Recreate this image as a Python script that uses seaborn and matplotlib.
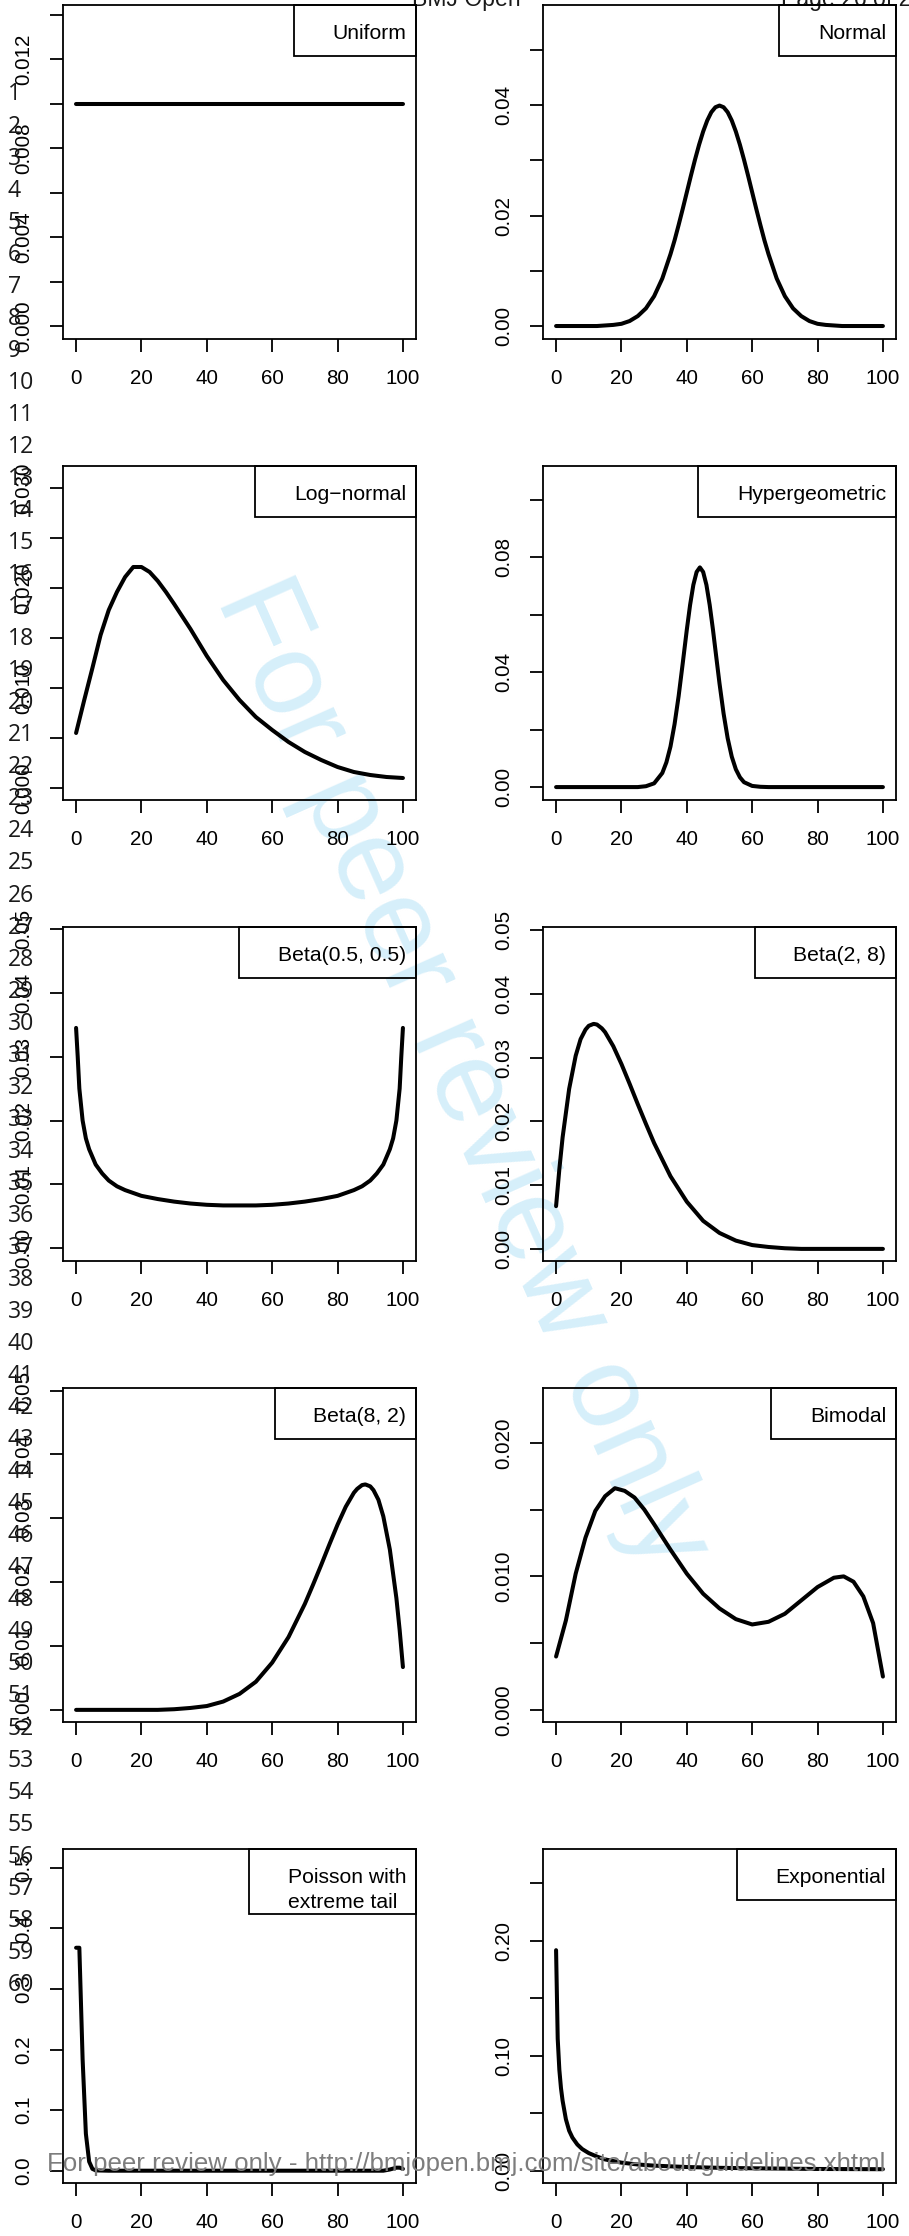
import matplotlib
matplotlib.use("Agg")
import matplotlib.pyplot as plt
import seaborn as sns
from matplotlib.patches import Rectangle

# ------------------------------------------------------------------ data
x_ticks = [0, 20, 40, 60, 80, 100]

uniform_x = [0, 100]
uniform_y = [0.01, 0.01]

normal_x = [0, 10, 12.5, 15, 17.5, 20, 22.5, 25, 27.5, 30, 32.5, 35, 36.25, 37.5, 38.75, 40, 41.25,
            42.5, 43.75, 45, 46.25, 47.5, 48.75, 50, 51.25, 52.5, 53.75, 55, 56.25, 57.5, 58.75, 60,
            61.25, 62.5, 63.75, 65, 67.5, 70, 72.5, 75, 77.5, 80, 82.5, 85, 87.5, 90, 100]
normal_y = [0.0000, 0.0000, 0.0000, 0.0001, 0.0002, 0.0004, 0.0009, 0.0018, 0.0032, 0.0054, 0.0086,
            0.0130, 0.0155, 0.0183, 0.0212, 0.0242, 0.0272, 0.0301, 0.0328, 0.0352, 0.0372, 0.0387,
            0.0396, 0.0399, 0.0396, 0.0387, 0.0372, 0.0352, 0.0328, 0.0301, 0.0272, 0.0242, 0.0212,
            0.0183, 0.0155, 0.0130, 0.0086, 0.0054, 0.0032, 0.0018, 0.0009, 0.0004, 0.0002, 0.0001,
            0.0000, 0.0000, 0.0000]

lognorm_x = [0, 2.5, 5, 7.5, 10, 12.5, 15, 17.5, 20, 22.5, 25, 27.5, 30, 35, 40, 45, 50, 55, 60, 65,
             70, 75, 80, 85, 90, 95, 100]
lognorm_y = [0.0055, 0.0088, 0.0120, 0.0153, 0.0178, 0.0196, 0.0211, 0.0221, 0.0221, 0.0216, 0.0207,
             0.0196, 0.0184, 0.0159, 0.0132, 0.0108, 0.0088, 0.0071, 0.0058, 0.0046, 0.0036, 0.0028,
             0.0021, 0.0016, 0.0013, 0.0011, 0.0010]

hyper_x = [0, 10, 20, 25, 27.5, 30, 32.5, 33.75, 35, 36.25, 37.5, 38.75, 40, 41, 42, 43, 44, 45, 46,
           47, 48, 49, 50, 51.25, 52.5, 53.75, 55, 56.25, 57.5, 60, 62.5, 65, 70, 80, 90, 100]
hyper_y = [0.0, 0.0, 0.0, 0.0000, 0.0003, 0.0013, 0.0049, 0.0086, 0.0141, 0.0219, 0.0317, 0.0431,
           0.0548, 0.0634, 0.0704, 0.0749, 0.0765, 0.0749, 0.0704, 0.0634, 0.0548, 0.0454, 0.0361,
           0.0256, 0.0170, 0.0106, 0.0062, 0.0034, 0.0017, 0.0004, 0.0001, 0.0, 0.0, 0.0, 0.0, 0.0]

beta55_x = [0, 0.5, 1, 2, 3, 4, 6, 8, 10, 12.5, 15, 20, 25, 30, 35, 40, 45, 50, 55, 60, 65, 70, 75,
            80, 85, 87.5, 90, 92, 94, 96, 97, 98, 99, 99.5, 100]
beta55_y = [0.0345, 0.0300, 0.0250, 0.0200, 0.0172, 0.0155, 0.0131, 0.0117, 0.0106, 0.0097, 0.0091,
            0.0082, 0.0077, 0.0073, 0.0070, 0.0068, 0.0067, 0.0067, 0.0067, 0.0068, 0.0070, 0.0073,
            0.0077, 0.0082, 0.0091, 0.0097, 0.0106, 0.0117, 0.0131, 0.0155, 0.0172, 0.0200, 0.0250,
            0.0300, 0.0345]

beta28_x = [0, 1, 2, 4, 6, 7.5, 9, 10, 11.5, 12.5, 14, 15, 17.5, 20, 22.5, 25, 27.5, 30, 35, 40, 45,
            50, 55, 60, 65, 70, 75, 80, 90, 100]
beta28_y = [0.0067, 0.0125, 0.0175, 0.0251, 0.0303, 0.0329, 0.0344, 0.0350, 0.0353, 0.0352, 0.0346,
            0.0340, 0.0318, 0.0290, 0.0259, 0.0227, 0.0196, 0.0166, 0.0114, 0.0074, 0.0044, 0.0025,
            0.0013, 0.0006, 0.0003, 0.0001, 0.0000, 0.0000, 0.0000, 0.0000]

beta82_x = [0, 10, 20, 25, 30, 35, 40, 45, 50, 55, 60, 65, 70, 72.5, 75, 77.5, 80, 82.5, 85, 86,
            87.5, 88.5, 90, 91, 92.5, 94, 96, 98, 99, 100]
beta82_y = [0.0000, 0.0000, 0.0000, 0.0000, 0.0001, 0.0003, 0.0006, 0.0013, 0.0025, 0.0044, 0.0074,
            0.0114, 0.0166, 0.0196, 0.0227, 0.0259, 0.0290, 0.0318, 0.0340, 0.0346, 0.0352, 0.0353,
            0.0350, 0.0344, 0.0329, 0.0303, 0.0251, 0.0175, 0.0125, 0.0067]

bimodal_x = [0, 3, 6, 9, 12, 15, 18, 21, 24, 27, 30, 35, 40, 45, 50, 55, 60, 65, 70, 75, 80, 85, 88,
             91, 94, 97, 100]
bimodal_y = [0.0040, 0.0067, 0.0102, 0.0129, 0.0149, 0.0160, 0.0166, 0.0164, 0.0159, 0.0150, 0.0139,
             0.0120, 0.0102, 0.0087, 0.0076, 0.0068, 0.0064, 0.0066, 0.0072, 0.0082, 0.0092, 0.0099,
             0.0100, 0.0096, 0.0085, 0.0065, 0.0025]

pois_x = [0, 1, 2, 3, 4, 5, 6, 10, 20, 40, 60, 80, 90, 94, 96, 98, 99, 100]
pois_y = [0.368, 0.368, 0.184, 0.061, 0.015, 0.003, 0.0005, 0.0, 0.0, 0.0, 0.0, 0.0, 0.0, 0.0,
          0.002, 0.005, 0.005, 0.003]

expo_x = [0, 0.5, 1, 1.5, 2, 3, 4, 5, 6.5, 8, 10, 12.5, 15, 20, 25, 30, 40, 50, 60, 70, 80, 90, 100]
expo_y = [0.192, 0.115, 0.088, 0.072, 0.061, 0.045, 0.035, 0.029, 0.023, 0.019, 0.0155, 0.0125,
          0.0100, 0.0072, 0.0056, 0.0046, 0.0034, 0.0027, 0.0023, 0.0020, 0.0017, 0.0016, 0.0015]

legend_texts = [["Uniform"], ["Normal"], ["Log\u2212normal"], ["Hypergeometric"],
                ["Beta(0.5, 0.5)"], ["Beta(2, 8)"], ["Beta(8, 2)"], ["Bimodal"],
                ["Poisson with", "extreme tail"], ["Exponential"]]

y_ticks = [
    [0, 0.002, 0.004, 0.006, 0.008, 0.010, 0.012, 0.014],
    [0, 0.01, 0.02, 0.03, 0.04, 0.05],
    [0, 0.005, 0.010, 0.015, 0.020, 0.025, 0.030],
    [0, 0.02, 0.04, 0.06, 0.08, 0.10],
    [0, 0.01, 0.02, 0.03, 0.04, 0.05],
    [0, 0.01, 0.02, 0.03, 0.04, 0.05],
    [0, 0.01, 0.02, 0.03, 0.04, 0.05],
    [0, 0.005, 0.010, 0.015, 0.020],
    [0, 0.1, 0.2, 0.3, 0.4, 0.5],
    [0, 0.05, 0.10, 0.15, 0.20, 0.25],
]
y_tick_labels = [
    ["0.000", "", "0.004", "", "0.008", "", "0.012", ""],
    ["0.00", "", "0.02", "", "0.04", ""],
    ["0.000", "", "0.010", "", "0.020", "", "0.030"],
    ["0.00", "", "0.04", "", "0.08", ""],
    ["0.00", "0.01", "0.02", "0.03", "0.04", "0.05"],
    ["0.00", "0.01", "0.02", "0.03", "0.04", "0.05"],
    ["0.00", "0.01", "0.02", "0.03", "0.04", "0.05"],
    ["0.000", "", "0.010", "", "0.020"],
    ["0.0", "0.1", "0.2", "0.3", "0.4", "0.5"],
    ["0.00", "", "0.10", "", "0.20", ""],
]
y_limits = [(-0.00058, 0.01445), (-0.00235, 0.0581), (-0.0012, 0.0322), (-0.0045, 0.1118),
            (-0.0020, 0.0503), (-0.0019, 0.0505), (-0.0019, 0.0504), (-0.0009, 0.0241),
            (-0.0203, 0.531), (-0.0105, 0.280)]

series = [(uniform_x, uniform_y), (normal_x, normal_y), (lognorm_x, lognorm_y),
          (hyper_x, hyper_y), (beta55_x, beta55_y), (beta28_x, beta28_y),
          (beta82_x, beta82_y), (bimodal_x, bimodal_y), (pois_x, pois_y), (expo_x, expo_y)]

line_numbers = list(range(1, 61))
header_left = "BMJ Open"
header_right = "Page 26 of 27"
footer = "For peer review only - http://bmjopen.bmj.com/site/about/guidelines.xhtml"
watermark = "For peer review only"

# ------------------------------------------------------------------ layout
W, H = 909, 2236
sns.set_style("ticks")
plt.rcParams["font.family"] = ["Liberation Sans", "DejaVu Sans"]

fig = plt.figure(figsize=(W / 100, H / 100), dpi=100)
fig.patch.set_facecolor("white")


def fx(px):
    return px / W


def fy(py):
    return 1 - py / H


row_tops = [5, 466, 927, 1388, 1849]
col_lefts = [63, 543]
ax_w, ax_h = 353, 334

# watermark behind everything
fig.text(fx(461), fy(1075), watermark, rotation=-66, ha="center", va="center",
         rotation_mode="anchor", fontsize=85, color="#d6effa", zorder=-10)

# line numbers
for i, n in enumerate(line_numbers):
    fig.text(fx(8), fy(100.5 + i * 32.04), str(n), ha="left", va="baseline",
             fontsize=16.6, color="#1a1a1a", family=["Open Sans", "DejaVu Sans"], zorder=5)

# header (mostly cut off by the page crop)
fig.text(fx(412), fy(6), header_left, ha="left", va="baseline", fontsize=16.6, color="#1a1a1a")
fig.text(fx(781), fy(6), header_right, ha="left", va="baseline", fontsize=16.6, color="#1a1a1a")

legend_items = []
for k, ((xs, ys), yt, ytl, yl, leg) in enumerate(zip(series, y_ticks, y_tick_labels, y_limits, legend_texts)):
    r, c = divmod(k, 2)
    left, top = col_lefts[c], row_tops[r]
    ax = fig.add_axes([fx(left), fy(top + ax_h), ax_w / W, ax_h / H])
    ax.patch.set_alpha(0)
    sns.lineplot(x=xs, y=ys, ax=ax, color="black", linewidth=2.9, sort=False, estimator=None)
    for ln in ax.lines:
        ln.set_solid_capstyle("round")
        ln.set_solid_joinstyle("round")
    ax.set_xlim(-4, 104)
    ax.set_ylim(*yl)
    ax.set_xticks(x_ticks)
    ax.set_xticklabels([str(v) for v in x_ticks])
    ax.set_yticks(yt)
    ax.set_yticklabels(ytl)
    ax.set_xlabel("")
    ax.set_ylabel("")
    ax.tick_params(direction="out", length=9.4, width=1.3, pad=12.2, labelsize=14.8,
                   colors="black")
    ax.tick_params(axis="y", labelrotation=90)
    for lab in ax.get_yticklabels():
        lab.set_va("center")
    for s in ax.spines.values():
        s.set_visible(True)
        s.set_linewidth(1.3)
        s.set_color("black")
    # legend text (R-style legend box, top-right)
    right = left + ax_w
    texts = []
    for j, line in enumerate(leg):
        t = fig.text(fx(right - 10), fy(top + 34 + 25 * j), line, ha="right", va="baseline",
                     fontsize=15.2, color="black", zorder=6)
        texts.append(t)
    legend_items.append((texts, right, top))

fig.canvas.draw()
renderer = fig.canvas.get_renderer()
for texts, right, top in legend_items:
    wmax = max(t.get_window_extent(renderer).width for t in texts)
    tx = right - 10 - wmax
    for t in texts:
        t.set_ha("left")
        t.set_x(fx(tx))
    bl = tx - 38.5
    bh = 37 + 14 * len(texts)
    fig.patches.append(Rectangle((fx(bl), fy(top + bh)), (right - bl) / W, bh / H,
                                 transform=fig.transFigure, fill=False, edgecolor="black",
                                 linewidth=1.3, zorder=6, figure=fig))

# footer, fitted to page width
ft = fig.text(fx(47), fy(2171), footer, ha="left", va="baseline", fontsize=17,
              color="#7d7d7d", zorder=8)
fig.canvas.draw()
fw = ft.get_window_extent(fig.canvas.get_renderer()).width
ft.set_fontsize(17 * 842 / fw)

fig.savefig("out.png", dpi=100, facecolor="white")
